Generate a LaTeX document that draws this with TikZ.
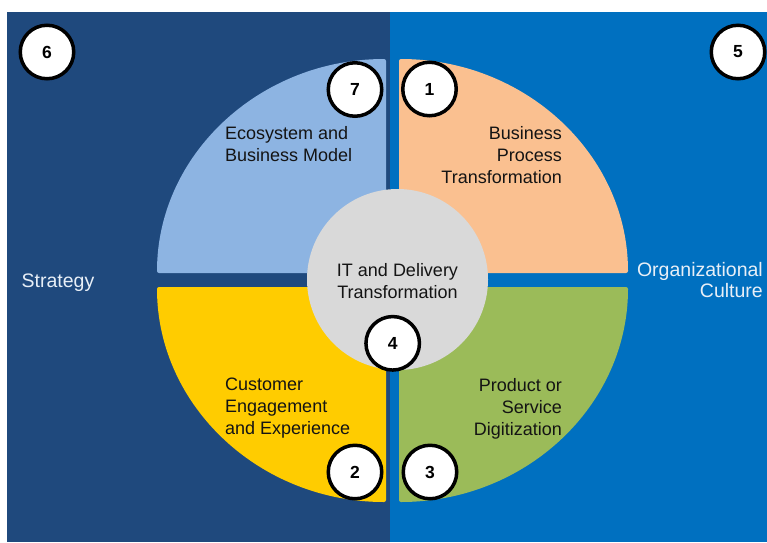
\documentclass[tikz,border=0pt]{standalone}
\usepackage{fontspec}
\setmainfont{Liberation Sans}
\definecolor{strategyblue}{HTML}{1F497D}
\definecolor{cultureblue}{HTML}{0070C0}
\definecolor{ecoblue}{HTML}{8DB4E2}
\definecolor{processpeach}{HTML}{FAC090}
\definecolor{customeryellow}{HTML}{FFCC00}
\definecolor{productgreen}{HTML}{9BBB59}
\definecolor{coregray}{HTML}{D9D9D9}
\definecolor{labelwhite}{HTML}{E8EFF7}
\definecolor{inktext}{HTML}{141414}
\tikzset{
  quadrant/.style={rounded corners=2pt},
  quadtext/.style={inner sep=0pt, text=inktext, font=\fontsize{18}{22}\selectfont},
  sidetext/.style={inner sep=0pt, text=labelwhite, font=\fontsize{19.5}{21.5}\selectfont},
  numdisc/.style={circle, draw=black, line width=3.5pt, fill=white,
    minimum size=53.5pt, inner sep=0pt, font=\bfseries\fontsize{17.5}{17.5}\selectfont},
}
\begin{document}
\begin{tikzpicture}[x=1pt,y=-1pt]
\useasboundingbox (0,0) rectangle (767,542);
\fill[white] (0,0) rectangle (767,542);
% two background halves
\fill[strategyblue] (7,12) rectangle (390,542);
\fill[cultureblue] (390,12) rectangle (767,542);

% four quarter-ellipse segments
\fill[ecoblue, quadrant] (386,59) arc[start angle=90, end angle=180, x radius=229pt, y radius=214pt] -- (386,273) -- cycle;
\fill[processpeach, quadrant] (399,59) arc[start angle=90, end angle=0, x radius=229pt, y radius=214pt] -- (399,273) -- cycle;
\fill[customeryellow, quadrant] (386,502) arc[start angle=270, end angle=180, x radius=229pt, y radius=215pt] -- (386,287) -- cycle;
\fill[productgreen, quadrant] (399,502) arc[start angle=270, end angle=360, x radius=229pt, y radius=215pt] -- (399,287) -- cycle;

% central hub
\node[circle, fill=coregray, minimum size=181pt, inner sep=0pt] (core) at (397.5,279.5) {};
\node[quadtext, anchor=north, align=center] (coretext) at (397.5,263) {IT and Delivery\\Transformation};

% segment labels
\node[quadtext, anchor=north west, align=left] (eco) at (225,126.5) {Ecosystem and\\Business Model};
\node[quadtext, anchor=north east, align=right] (process) at (562,126.5) {Business\\Process\\Transformation};
\node[quadtext, anchor=north west, align=left] (customer) at (225,378) {Customer\\Engagement\\and Experience};
\node[quadtext, anchor=north east, align=right] (product) at (562,378) {Product or\\Service\\Digitization};

% side labels
\node[sidetext, anchor=north west, align=left] (strategy) at (21.5,273.5) {Strategy};
\node[sidetext, anchor=north east, align=right] (culture) at (763,262) {Organizational\\Culture};

% numbered markers
\node[numdisc] (n1) at (429.5,89) {1};
\node[numdisc] (n2) at (355,472) {2};
\node[numdisc] (n3) at (430,472) {3};
\node[numdisc] (n4) at (392.7,343.3) {4};
\node[numdisc] (n5) at (738,52) {5};
\node[numdisc] (n6) at (47,52) {6};
\node[numdisc] (n7) at (355,89.5) {7};
\end{tikzpicture}
\end{document}
